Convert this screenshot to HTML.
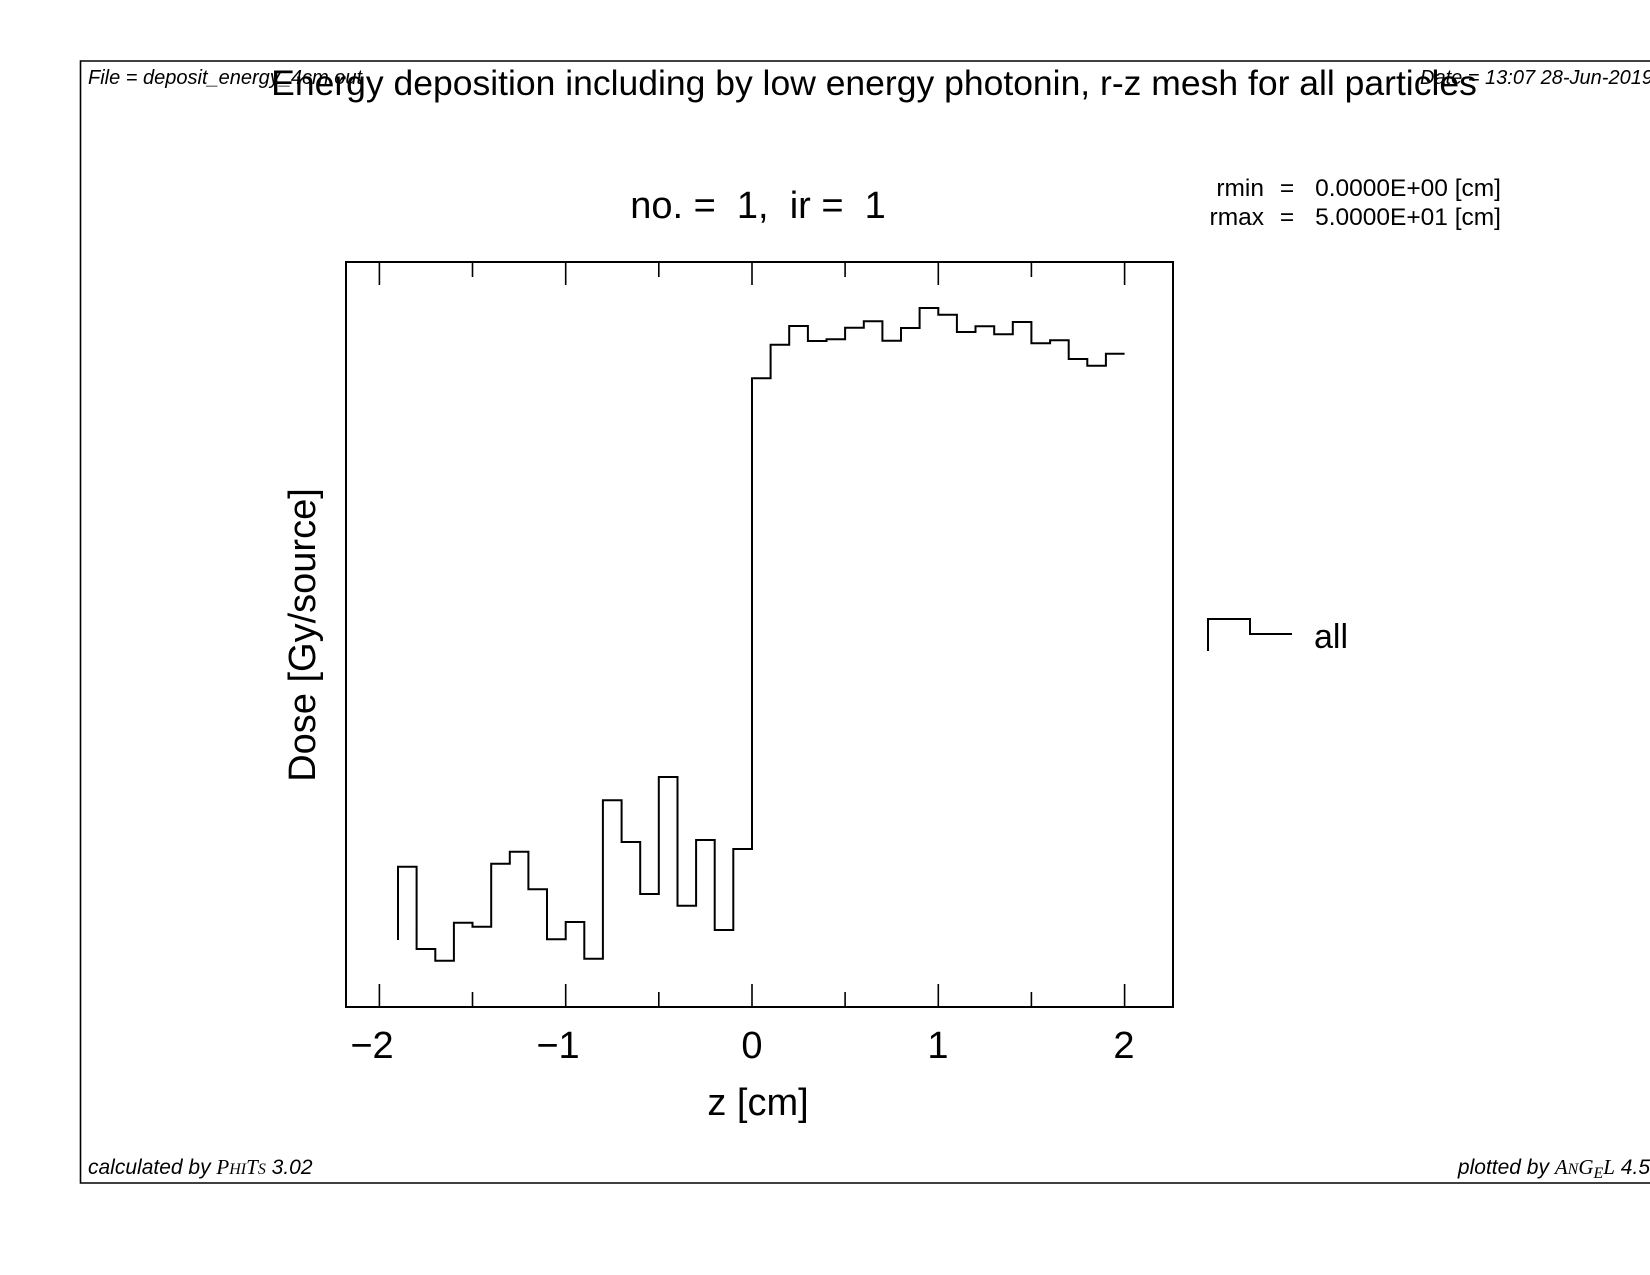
<!DOCTYPE html>
<html><head><meta charset="utf-8"><style>
html,body{margin:0;padding:0;background:#fff;}
svg{display:block;}
text{font-family:"Liberation Sans",Arial,sans-serif;fill:#000;}
</style></head><body>
<svg width="1650" height="1275" viewBox="0 0 1650 1275" xmlns="http://www.w3.org/2000/svg">
<rect x="0" y="0" width="1650" height="1275" fill="#fff"/>
<path d="M1660,61 H80.5 V1183 H1660" fill="none" stroke="#000" stroke-width="1.6"/>
<text x="88" y="84" font-size="20" font-style="italic">File = deposit_energy_4cm.out</text>
<text x="1420" y="84" font-size="20" font-style="italic">Date = 13:07 28-Jun-2019</text>
<text x="874" y="95" font-size="35.5" text-anchor="middle">Energy deposition including by low energy photonin, r-z mesh for all particles</text>
<text x="758" y="218" font-size="38" text-anchor="middle" xml:space="preserve">no. =  1,  ir =  1</text>
<text x="1264" y="196" font-size="24.5" text-anchor="end">rmin</text>
<text x="1287" y="196" font-size="24.5" text-anchor="middle">=</text>
<text x="1501" y="196" font-size="24.5" text-anchor="end">0.0000E+00 [cm]</text>
<text x="1264" y="225" font-size="24.5" text-anchor="end">rmax</text>
<text x="1287" y="225" font-size="24.5" text-anchor="middle">=</text>
<text x="1501" y="225" font-size="24.5" text-anchor="end">5.0000E+01 [cm]</text>
<rect x="346" y="262" width="827" height="745" fill="none" stroke="#000" stroke-width="2"/>
<g stroke="#000" stroke-width="1.6">
<path d="M379.4,1007 v-23 M565.7,1007 v-23 M752,1007 v-23 M938.3,1007 v-23 M1124.6,1007 v-23 M472.5,1007 v-15 M658.8,1007 v-15 M845.1,1007 v-15 M1031.4,1007 v-15"/>
<path d="M379.4,262 v23 M565.7,262 v23 M752,262 v23 M938.3,262 v23 M1124.6,262 v23 M472.5,262 v15 M658.8,262 v15 M845.1,262 v15 M1031.4,262 v15"/>
</g>
<g font-size="38" text-anchor="middle">
<text x="372" y="1058">−2</text>
<text x="558" y="1058">−1</text>
<text x="752" y="1058">0</text>
<text x="938" y="1058">1</text>
<text x="1124" y="1058">2</text>
</g>
<text x="758" y="1115" font-size="38" text-anchor="middle">z [cm]</text>
<text transform="translate(315,635) rotate(-90)" font-size="38" text-anchor="middle">Dose [Gy/source]</text>
<path d="M398,940 V866.7 H416.6 V949 H435.3 V960.7 H453.9 V922.7 H472.5 V926.7 H491.2 V863.7 H509.8 V851.7 H528.4 V889.3 H547 V939.3 H565.7 V922 H584.3 V958.7 H602.9 V800.3 H621.6 V842 H640.2 V894 H658.8 V777 H677.5 V905.7 H696.1 V840 H714.7 V930 H733.3 V849 H752 V378.3 H770.6 V344.7 H789.2 V326 H807.9 V341 H826.5 V339.3 H845.1 V327.7 H863.8 V321.3 H882.4 V340.7 H901 V328 H919.6 V308 H938.3 V314.7 H956.9 V332 H975.5 V326.3 H994.2 V334.3 H1012.8 V322 H1031.4 V343.3 H1050.1 V340.3 H1068.7 V359 H1087.3 V365.7 H1105.9 V353.7 H1124.6" fill="none" stroke="#000" stroke-width="2"/>
<path d="M1208,651 V619 H1250 V634 H1292" fill="none" stroke="#000" stroke-width="2"/>
<text x="1314" y="648" font-size="34">all</text>
<text x="88" y="1174" font-size="21" font-style="italic">calculated by <tspan font-family="Liberation Serif,serif">P<tspan font-size="16">HI</tspan>T<tspan font-size="16">S</tspan></tspan> 3.02</text>
<text x="1650" y="1174" font-size="21" font-style="italic" text-anchor="end">plotted by <tspan font-family="Liberation Serif,serif">A<tspan font-size="16">N</tspan>G<tspan font-size="16" dy="4">E</tspan><tspan dy="-4">L</tspan></tspan> 4.5</text>
</svg>
</body></html>
